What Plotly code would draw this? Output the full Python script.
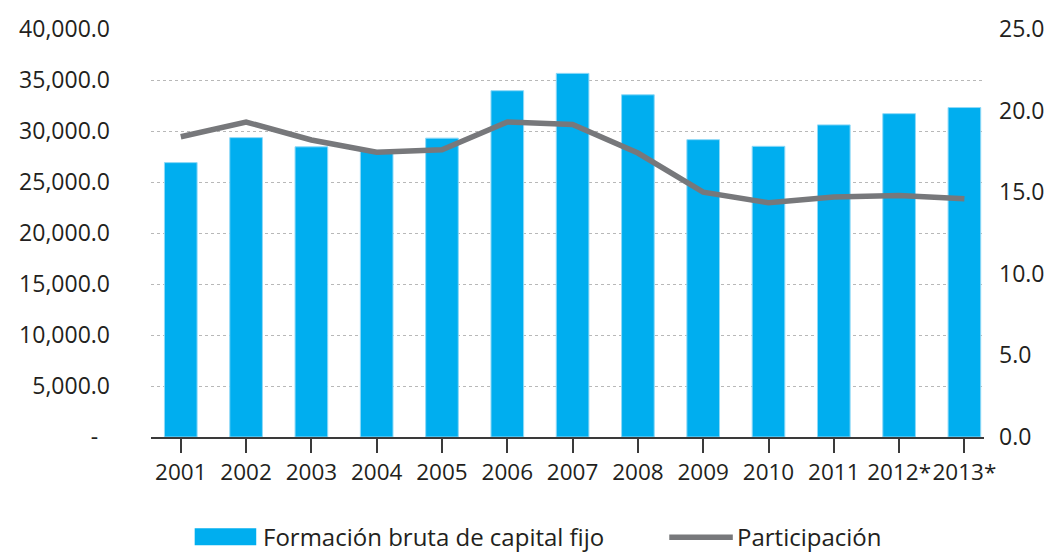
import plotly.graph_objects as go

# Series data
years = ["2001", "2002", "2003", "2004", "2005", "2006", "2007",
         "2008", "2009", "2010", "2011", "2012*", "2013*"]
fbcf = [26900, 29350, 28450, 28100, 29300, 33950, 35650,
        33550, 29150, 28500, 30600, 31700, 32300]
participacion = [18.4, 19.3, 18.2, 17.45, 17.6, 19.3, 19.15,
                 17.4, 15.0, 14.35, 14.7, 14.8, 14.6]

left_ticks = [0, 5000, 10000, 15000, 20000, 25000, 30000, 35000, 40000]
left_labels = ["-\u00a0\u00a0", "5,000.0", "10,000.0", "15,000.0", "20,000.0",
               "25,000.0", "30,000.0", "35,000.0", "40,000.0"]
right_ticks = [0, 5, 10, 15, 20, 25]
right_labels = ["0.0", "5.0", "10.0", "15.0", "20.0", "25.0"]

BLUE = "#00AEEF"
GRAY = "#77787B"
TEXT = "#231F20"
FONT = "Open Sans"
TICK_SIZE = 23
XTICK_SIZE = 22.5
LEGEND_SIZE = 24

xpos = list(range(len(years)))

fig = go.Figure()

fig.add_trace(go.Bar(
    x=xpos, y=fbcf, width=0.5,
    marker=dict(color=BLUE, line=dict(color="#8fd9f7", width=1)),
    name="Formación bruta de capital fijo",
    yaxis="y",
))

fig.add_trace(go.Scatter(
    x=xpos, y=participacion, mode="lines",
    line=dict(color=GRAY, width=5.5),
    name="Participación",
    yaxis="y2",
))

fig.update_layout(
    width=1057, height=552,
    margin=dict(l=151, r=67, t=26, b=115),
    plot_bgcolor="white", paper_bgcolor="white",
    showlegend=False,
    font=dict(family=FONT, size=TICK_SIZE, color=TEXT),
    xaxis=dict(
        range=[-0.456, 12.30],
        tickmode="array", tickvals=xpos, ticktext=years,
        tickangle=0,
        showgrid=False, zeroline=False,
        showline=True, linecolor="#3a3a3a", linewidth=1.5,
        ticks="outside", ticklen=14, tickwidth=1.5, tickcolor="#3a3a3a",
        tickfont=dict(family=FONT, size=XTICK_SIZE, color=TEXT),
    ),
    yaxis=dict(
        range=[0, 40000],
        tickmode="array", tickvals=left_ticks, ticktext=left_labels,
        showgrid=True, gridcolor="#b8b8b8", gridwidth=1, griddash="dot",
        zeroline=False, showline=False, ticks="",
        ticklabelstandoff=40,
        tickfont=dict(family=FONT, size=TICK_SIZE, color=TEXT),
    ),
    yaxis2=dict(
        range=[0, 25], overlaying="y", side="right",
        tickmode="array", tickvals=right_ticks, ticktext=right_labels,
        showgrid=False, zeroline=False, showline=False, ticks="",
        ticklabelstandoff=14,
        tickfont=dict(family=FONT, size=TICK_SIZE, color=TEXT),
    ),
)

# Legend drawn below the plot area
fig.add_shape(type="rect", xref="paper", yref="paper",
              x0=(195 - 151) / 839, x1=(257 - 151) / 839,
              y0=-(546 - 437) / 411, y1=-(529 - 437) / 411,
              fillcolor=BLUE, line=dict(width=0))
fig.add_annotation(xref="paper", yref="paper",
                   x=(262 - 151) / 839, y=-(537.5 - 437) / 411,
                   text="Formación bruta de capital fijo", showarrow=False,
                   xanchor="left", yanchor="middle",
                   font=dict(family=FONT, size=LEGEND_SIZE, color=TEXT))
fig.add_shape(type="line", xref="paper", yref="paper",
              x0=(673 - 151) / 839, x1=(737 - 151) / 839,
              y0=-(538 - 437) / 411, y1=-(538 - 437) / 411,
              line=dict(color=GRAY, width=5.5))
fig.add_annotation(xref="paper", yref="paper",
                   x=(739 - 151) / 839, y=-(537.5 - 437) / 411,
                   text="Participación", showarrow=False,
                   xanchor="left", yanchor="middle",
                   font=dict(family=FONT, size=LEGEND_SIZE, color=TEXT))

fig.write_html("out.html")
